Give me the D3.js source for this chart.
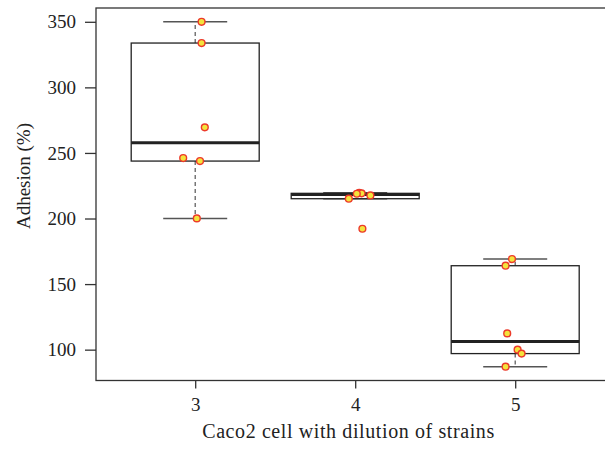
<!DOCTYPE html>
<html>
<head>
<meta charset="utf-8">
<script src="https://cdn.jsdelivr.net/npm/d3@7"></script>
<style>
  body { margin: 0; background: #fff; }
</style>
</head>
<body>
<div id="chart"></div>
<script>
// dilution groups
var categories = ["3", "4", "5"];
// adhesion values (%) per group
var group3 = [350, 333.8, 269.5, 246.1, 243.8, 200.1];
var group4 = [219.6, 219.2, 218.9, 217.6, 215.1, 192.2];
var group5 = [169.1, 164.0, 112.4, 100.0, 97.0, 87.0];
// horizontal jitter of the points (in group units)
var jitter3 = [0.04, 0.04, 0.06, -0.075, 0.03, 0.01];
var jitter4 = [0.025, 0.04, 0.01, 0.095, -0.04, 0.045];
var jitter5 = [-0.02, -0.06, -0.05, 0.015, 0.04, -0.06];
var yTicks = [100, 150, 200, 250, 300, 350];

var groups = [group3, group4, group5];
var jitters = [jitter3, jitter4, jitter5];

var width = 605, height = 451;
var serif = "'Liberation Serif', 'Times New Roman', 'DejaVu Serif', serif";

var svg = d3.select("#chart").append("svg")
    .attr("width", width)
    .attr("height", height);

// R style: 4% extension of the data range
var all = d3.merge(groups);
var ext = d3.extent(all), pad = (ext[1] - ext[0]) * 0.04;

var y = d3.scaleLinear()
    .domain([ext[0] - pad, ext[1] + pad])
    .range([380.5, 8]);

var x = d3.scaleLinear()
    .domain([1 - 0.62, categories.length + 0.62])
    .range([96, 614.4]);

// tukey hinges like fivenum()
function stats(vals) {
  var s = vals.slice().sort(d3.ascending), n = s.length;
  var n4 = Math.floor((n + 3) / 2) / 2;
  var idx = [1, n4, (n + 1) / 2, n + 1 - n4, n];
  var f = idx.map(function(d) {
    return 0.5 * (s[Math.floor(d) - 1] + s[Math.ceil(d) - 1]);
  });
  var iqr = f[3] - f[1];
  var lo = d3.min(s.filter(function(v) { return v >= f[1] - 1.5 * iqr; }));
  var hi = d3.max(s.filter(function(v) { return v <= f[3] + 1.5 * iqr; }));
  return {q1: f[1], med: f[2], q3: f[3], lo: lo, hi: hi};
}

var boxW = x(1.4) - x(1), capW = x(1.2) - x(1);

// frame
svg.append("rect")
  .attr("x", x.range()[0]).attr("y", y.range()[1])
  .attr("width", x.range()[1] - x.range()[0])
  .attr("height", y.range()[0] - y.range()[1])
  .attr("fill", "none")
  .attr("stroke", "#333")
  .attr("stroke-width", 1.3);

// y axis
var yAxis = svg.append("g")
  .attr("transform", "translate(" + x.range()[0] + ",0)")
  .call(d3.axisLeft(y).tickValues(yTicks).tickSize(11).tickPadding(9));
yAxis.select(".domain").remove();
yAxis.selectAll("line").attr("stroke", "#333").attr("stroke-width", 1.3);
yAxis.selectAll("text")
  .style("font-family", serif).style("font-size", "19px").attr("fill", "#222");

// x axis
var xAxis = svg.append("g")
  .attr("transform", "translate(0," + y.range()[0] + ")")
  .call(d3.axisBottom(x).tickValues([1, 2, 3])
        .tickFormat(function(d) { return categories[d - 1]; })
        .tickSize(8).tickPadding(9));
xAxis.select(".domain").remove();
xAxis.selectAll("line").attr("stroke", "#333").attr("stroke-width", 1.3);
xAxis.selectAll("text")
  .style("font-family", serif).style("font-size", "19px").attr("fill", "#222");

// boxes
groups.forEach(function(vals, i) {
  var st = stats(vals), cx = x(i + 1);
  var g = svg.append("g");

  g.append("line")
    .attr("x1", cx).attr("x2", cx)
    .attr("y1", y(st.q3)).attr("y2", y(st.hi))
    .attr("stroke", "#555").attr("stroke-width", 1.2)
    .attr("stroke-dasharray", "4,3");
  g.append("line")
    .attr("x1", cx).attr("x2", cx)
    .attr("y1", y(st.q1)).attr("y2", y(st.lo))
    .attr("stroke", "#555").attr("stroke-width", 1.2)
    .attr("stroke-dasharray", "4,3");

  [st.lo, st.hi].forEach(function(v) {
    g.append("line")
      .attr("x1", cx - capW).attr("x2", cx + capW)
      .attr("y1", y(v)).attr("y2", y(v))
      .attr("stroke", "#555").attr("stroke-width", 1.5);
  });

  g.append("rect")
    .attr("x", cx - boxW).attr("width", boxW * 2)
    .attr("y", y(st.q3)).attr("height", y(st.q1) - y(st.q3))
    .attr("fill", "#fff")
    .attr("stroke", "#222").attr("stroke-width", 1.3);

  g.append("line")
    .attr("x1", cx - boxW).attr("x2", cx + boxW)
    .attr("y1", y(st.med)).attr("y2", y(st.med))
    .attr("stroke", "#222").attr("stroke-width", 3);
});

// jittered points
groups.forEach(function(vals, i) {
  svg.append("g").selectAll("circle")
    .data(vals)
    .enter().append("circle")
    .attr("cx", function(d, j) { return x(i + 1 + jitters[i][j]); })
    .attr("cy", function(d) { return y(d); })
    .attr("r", 3.4)
    .attr("fill", "#f4e33c")
    .attr("stroke", "#ec3a2a")
    .attr("stroke-width", 1.4);
});

// axis titles
svg.append("text")
  .attr("x", 348.5).attr("y", 438)
  .attr("text-anchor", "middle")
  .style("font-family", serif)
  .style("font-size", "20px")
  .style("letter-spacing", "0.6px")
  .attr("fill", "#222")
  .text("Caco2 cell with dilution of strains");

svg.append("text")
  .attr("transform", "translate(30,176) rotate(-90)")
  .attr("text-anchor", "middle")
  .style("font-family", serif)
  .style("font-size", "19px")
  .attr("fill", "#222")
  .text("Adhesion (%)");
</script>
</body>
</html>
